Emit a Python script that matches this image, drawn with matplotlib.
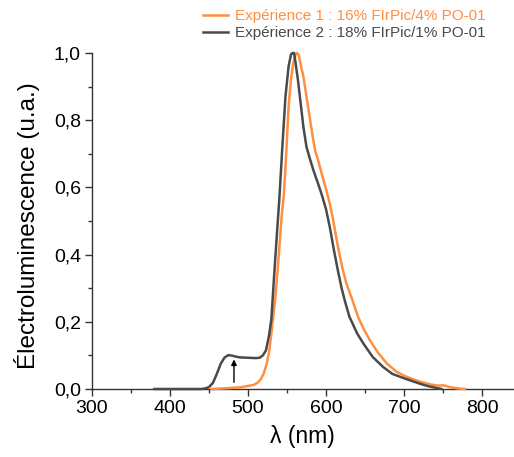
import numpy as np
import matplotlib
matplotlib.use("Agg")
import matplotlib.pyplot as plt
from matplotlib.ticker import MultipleLocator, FuncFormatter

plt.rcParams['font.family'] = ['Liberation Sans', 'DejaVu Sans']

## data
# experience 1 : 16% FIrPic/4% PO-01 (orange)
wl_exp1 = [453, 470, 490, 500, 507, 512, 516, 520, 524, 527, 530, 533, 535, 539, 543,
           546, 549, 552, 555, 558, 561, 563, 565, 568, 571, 575, 579, 583, 586, 590,
           594, 600, 605, 609, 612, 616, 621, 626, 633, 641, 648, 656, 666, 678, 690,
           700, 708, 720, 735, 745, 750, 754, 760, 768, 778]
el_exp1 = [0.0, 0.002, 0.005, 0.009, 0.012, 0.018, 0.028, 0.045, 0.075, 0.11, 0.166, 0.23, 0.27, 0.385, 0.51,
           0.58, 0.70, 0.84, 0.92, 0.97, 0.995, 1.0, 0.995, 0.96, 0.93, 0.87, 0.81, 0.75, 0.71, 0.68,
           0.645, 0.595, 0.55, 0.505, 0.465, 0.415, 0.36, 0.315, 0.27, 0.215, 0.18, 0.146, 0.11, 0.076, 0.052,
           0.04, 0.032, 0.022, 0.013, 0.010, 0.011, 0.009, 0.005, 0.002, 0.0]

# experience 2 : 18% FIrPic/1% PO-01 (gray)
wl_exp2 = [380, 440, 446, 450, 455, 460, 465, 470, 475, 480, 485, 490, 500, 510, 515,
           519, 523, 527, 530, 533, 537, 540, 544, 548, 552, 555, 557, 559, 561, 564,
           567, 571, 575, 580, 584, 590, 595, 600, 605, 610, 615, 620, 625, 630, 640,
           648, 660, 673, 685, 700, 710, 720, 730, 740, 748]
el_exp2 = [0.0, 0.0, 0.002, 0.006, 0.018, 0.045, 0.075, 0.094, 0.101, 0.099, 0.096, 0.094, 0.093, 0.092, 0.093,
           0.10, 0.115, 0.16, 0.21, 0.32, 0.46, 0.56, 0.72, 0.87, 0.96, 0.995, 1.0, 1.0, 0.97, 0.92,
           0.86, 0.78, 0.72, 0.68, 0.65, 0.61, 0.575, 0.535, 0.48, 0.415, 0.355, 0.30, 0.255, 0.215, 0.165,
           0.135, 0.095, 0.066, 0.045, 0.032, 0.024, 0.016, 0.009, 0.004, 0.0]

labels = ["Expérience 1 : 16% FIrPic/4% PO-01",
          "Expérience 2 : 18% FIrPic/1% PO-01"]
colors = ["#FF8F40", "#4A4A4A"]

arrow_x = 482
arrow_y = (0.02, 0.088)

##figure
fig = plt.figure(figsize=(5.14, 4.57), dpi=100)
ax = fig.add_axes([0.179, 0.1488, 0.8195, 0.7352])

ax.plot(wl_exp1, el_exp1, color=colors[0], lw=1.8, label=labels[0], clip_on=False, zorder=3)
ax.plot(wl_exp2, el_exp2, color=colors[1], lw=1.8, label=labels[1], clip_on=False, zorder=4)

ax.annotate('', xy=(arrow_x, arrow_y[1]), xytext=(arrow_x, arrow_y[0]),
            arrowprops=dict(arrowstyle='-|>', color='black', lw=1, mutation_scale=8,
                            shrinkA=0, shrinkB=0))

ax.set_xlim(300, 840)
ax.set_ylim(0, 1.0)
ax.xaxis.set_major_locator(MultipleLocator(100))
ax.xaxis.set_minor_locator(MultipleLocator(50))
ax.yaxis.set_major_locator(MultipleLocator(0.2))
ax.yaxis.set_minor_locator(MultipleLocator(0.1))
ax.yaxis.set_major_formatter(FuncFormatter(lambda v, p: '{0:.1f}'.format(v).replace('.', ',')))

for s in ['top', 'right']:
    ax.spines[s].set_visible(False)
for s in ['left', 'bottom']:
    ax.spines[s].set_color('#333333')
    ax.spines[s].set_linewidth(1.0)

ax.tick_params(which='major', direction='out', length=5, width=1, color='#333333',
               labelsize=14, pad=3)
ax.tick_params(which='minor', direction='out', length=3, width=1, color='#333333')

ax.set_xlabel('λ (nm)', fontsize=16.5, labelpad=6)
ax.set_ylabel('Électroluminescence (u.a.)', fontsize=17.5)
ax.yaxis.set_label_coords(-0.123, 0.485)

leg = fig.legend(loc='upper left', bbox_to_anchor=(0.369, 1.01), frameon=False,
                 fontsize=11, handlelength=1.6, handletextpad=0.5, labelspacing=0.2,
                 labelcolor='linecolor')

fig.savefig('out.png', dpi=100)
